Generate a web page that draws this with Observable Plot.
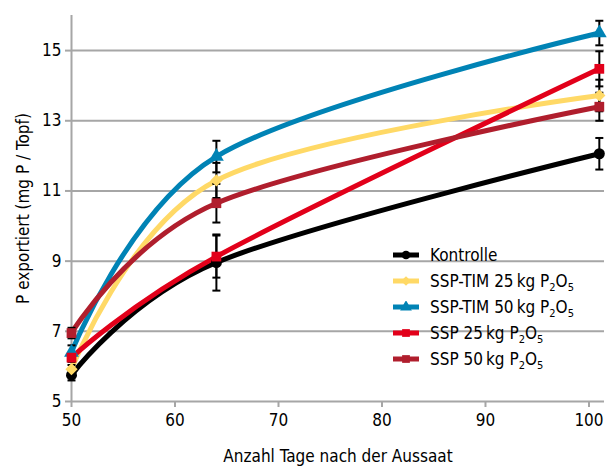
<!DOCTYPE html>
<html><head><meta charset="utf-8">
<script src="https://cdn.jsdelivr.net/npm/d3@7"></script>
<script src="https://cdn.jsdelivr.net/npm/@observablehq/plot@0.6"></script>
<style>
body{margin:0;background:#fff;}
#wrap{position:relative;width:608px;height:466px;font-family:"Liberation Sans Narrow","DejaVu Sans Condensed","Open Sans",sans-serif;}
#legend{position:absolute;left:392px;top:242px;font-size:17px;color:#000;}
#legend .row{display:flex;align-items:center;height:26px;white-space:nowrap;}
#legend svg{margin-right:10px;}
#legend sub{font-size:11px;vertical-align:-4px;line-height:0;}
</style></head><body><div id="wrap"></div>
<script>
const days = [50, 64, 101];
const seriesKeys = ["Kontrolle", "SSP-TIM 25", "SSP-TIM 50", "SSP 25", "SSP 50"];
const legendLabels = ["Kontrolle", "SSP-TIM 25\u2009kg P<sub>2</sub>O<sub>5</sub>", "SSP-TIM 50\u2009kg P<sub>2</sub>O<sub>5</sub>", "SSP 25\u2009kg P<sub>2</sub>O<sub>5</sub>", "SSP 50\u2009kg P<sub>2</sub>O<sub>5</sub>"];
const colors = ["#000000", "#FFD966", "#0083B5", "#E2001A", "#B01E2D"];
const symbols = ["circle", "diamond2", "triangle", "square", "square"];

const kontrolle = [5.75, 8.96, 12.06];
const kontrolleErr = [0.15, 0.8, 0.45];
const sspTim25 = [5.92, 11.3, 13.72];
const sspTim25Err = [0.12, 0.5, 0.45];
const sspTim50 = [6.4, 11.98, 15.5];
const sspTim50Err = [0.2, 0.45, 0.35];
const ssp25 = [6.25, 9.13, 14.48];
const ssp25Err = [0.12, 0.6, 0.5];
const ssp50 = [6.95, 10.65, 13.4];
const ssp50Err = [0.15, 0.55, 0.4];

const values = [kontrolle, sspTim25, sspTim50, ssp25, ssp50];
const errs = [kontrolleErr, sspTim25Err, sspTim50Err, ssp25Err, ssp50Err];

const yTicks = [5, 7, 9, 11, 13, 15];
const xTicks = [50, 60, 70, 80, 90, 100];

const rows = [];
seriesKeys.forEach((s, i) => days.forEach((d, j) => rows.push({series: s, day: d, value: values[i][j], lo: values[i][j] - errs[i][j], hi: values[i][j] + errs[i][j]})));

const capSymbol = {draw(ctx, size) { const h = Math.sqrt(size / Math.PI); ctx.moveTo(-h, 0); ctx.lineTo(h, 0); }};
const grey = "#a6a6a6";

const chart = Plot.plot({
  width: 608, height: 466,
  marginLeft: 71, marginRight: 4, marginTop: 15, marginBottom: 65,
  style: {fontFamily: "'Liberation Sans Narrow','DejaVu Sans Condensed','Open Sans',sans-serif", fontSize: "17px", color: "#000", background: "#fff"},
  x: {domain: [50, 101.5], label: null},
  y: {domain: [5, 16], label: null},
  color: {domain: seriesKeys, range: colors},
  symbol: {domain: seriesKeys, range: symbols},
  marks: [
    Plot.ruleY(yTicks, {stroke: grey, strokeWidth: 2}),
    Plot.ruleX([50], {stroke: grey, strokeWidth: 2}),
    Plot.axisX({ticks: xTicks, tickSize: 6, tickPadding: 6, stroke: grey, strokeWidth: 2, fontSize: 17,
      label: "Anzahl Tage nach der Aussaat", labelAnchor: "center", labelArrow: "none", labelOffset: 60}),
    Plot.axisY({ticks: yTicks, tickSize: 6, tickPadding: 4, stroke: grey, strokeWidth: 2, fontSize: 17,
      label: "P exportiert (mg P / Topf)", labelAnchor: "center", labelArrow: "none", labelOffset: 55}),
    Plot.line(rows, {x: "day", y: "value", z: "series", stroke: "series", curve: "cardinal", strokeWidth: 5}),
    Plot.ruleX(rows, {x: "day", y1: "lo", y2: "hi", stroke: "#000", strokeWidth: 2}),
    Plot.dot(rows, {x: "day", y: "lo", symbol: capSymbol, r: 4, stroke: "#000", strokeWidth: 2}),
    Plot.dot(rows, {x: "day", y: "hi", symbol: capSymbol, r: 4, stroke: "#000", strokeWidth: 2}),
    Plot.dot(rows, {x: "day", y: "value", fill: "series", symbol: "series", r: 5.5, stroke: null})
  ]
});
const wrap = document.getElementById("wrap");
wrap.appendChild(chart);

const legend = document.createElement("div");
legend.id = "legend";
const symMap = {circle: d3.symbolCircle, diamond2: d3.symbolDiamond2, triangle: d3.symbolTriangle, square: d3.symbolSquare};
seriesKeys.forEach((s, i) => {
  const row = document.createElement("div");
  row.className = "row";
  const path = d3.symbol(symMap[symbols[i]], 60)();
  row.innerHTML = `<svg width="28" height="12" viewBox="0 0 28 12"><line x1="1" x2="27" y1="6" y2="6" stroke="${colors[i]}" stroke-width="5"/><path transform="translate(14,6)" d="${path}" fill="${colors[i]}"/></svg><span>${legendLabels[i]}</span>`;
  legend.appendChild(row);
});
wrap.appendChild(legend);
</script></body></html>
